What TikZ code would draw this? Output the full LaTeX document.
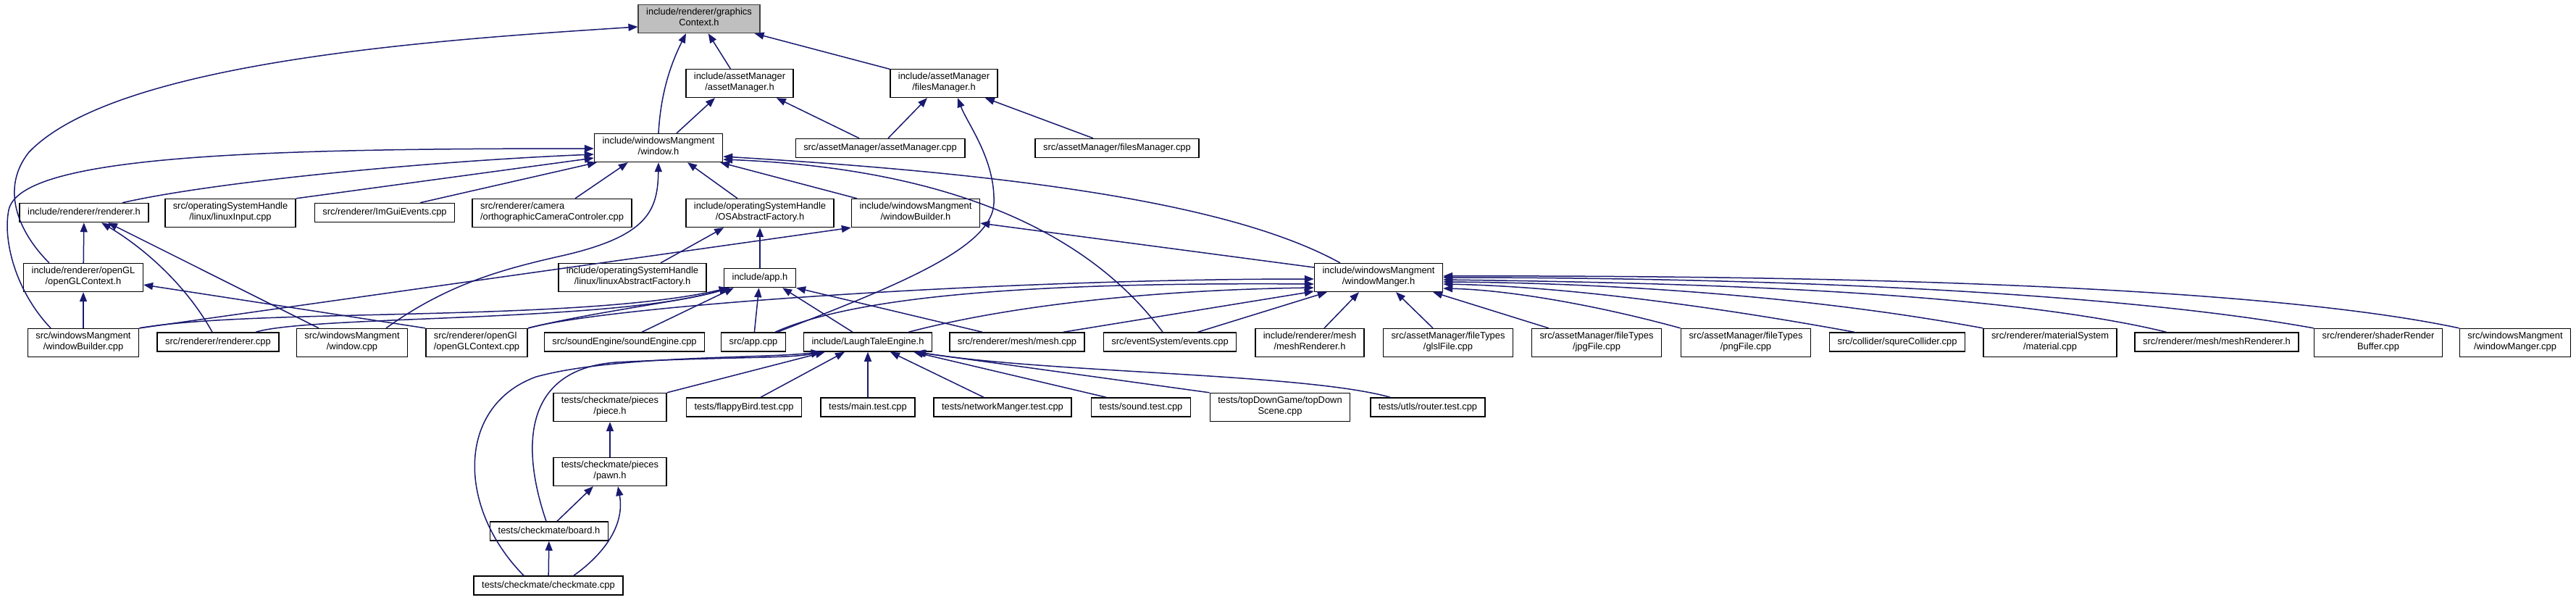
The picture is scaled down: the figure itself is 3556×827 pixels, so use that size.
\documentclass[tikz,border=0pt]{standalone}
\usepackage{fontspec}
\setmainfont{Liberation Sans}
\usetikzlibrary{arrows.meta,positioning}
\definecolor{edgeblue}{HTML}{191970}
\definecolor{mainfill}{HTML}{BFBFBF}

\begin{document}
\begin{tikzpicture}[x=1pt, y=-1pt,
  file/.style={draw=black, line width=1.5pt, fill=white, inner xsep=11pt, inner ysep=5pt,
    minimum height=26pt, align=center, font=\fontsize{12.9}{15}\selectfont,
    execute at begin node=\strut, execute at end node=\strut},
  current/.style={file, fill=mainfill, draw=black!75},
  dep/.style={draw=edgeblue, line width=1.5pt, -{Triangle[length=13pt,width=10pt]}}]
  \useasboundingbox (0,0) rectangle (3556,827);

  \node[current] (gc) at (965,26) {include/renderer/graphics\\Context.h};
  \node[file] (am) at (1021,115) {include/assetManager\\/assetManager.h};
  \node[file] (fm) at (1303,115) {include/assetManager\\/filesManager.h};
  \node[file] (win) at (909,204) {include/windowsMangment\\/window.h};
  \node[file] (amcpp) at (1215,204.5) {src/assetManager/assetManager.cpp};
  \node[file] (fmcpp) at (1542,204.5) {src/assetManager/filesManager.cpp};

  \node[file] (rendh) at (116,293.5) {include/renderer/renderer.h};
  \node[file] (lininput) at (318,294) {src/operatingSystemHandle\\/linux/linuxInput.cpp};
  \node[file] (imgui) at (531,293.5) {src/renderer/ImGuiEvents.cpp};
  \node[file, align=left] (ortho) at (762,294) {src/renderer/camera\\/orthographicCameraControler.cpp};
  \node[file] (osf) at (1049,294) {include/operatingSystemHandle\\/OSAbstractFactory.h};
  \node[file] (wbh) at (1264,294) {include/windowsMangment\\/windowBuilder.h};

  \node[file] (oglh) at (115,383) {include/renderer/openGL\\/openGLContext.h};
  \node[file] (laf) at (873,383) {include/operatingSystemHandle\\/linux/linuxAbstractFactory.h};
  \node[file] (apph) at (1049,383.5) {include/app.h};
  \node[file] (wmh) at (1903,383) {include/windowsMangment\\/windowManger.h};

  \node[file] (wbcpp) at (115,473) {src/windowsMangment\\/windowBuilder.cpp};
  \node[file] (rendcpp) at (301,472) {src/renderer/renderer.cpp};
  \node[file] (wincpp) at (486,473) {src/windowsMangment\\/window.cpp};
  \node[file, align=left] (oglcpp) at (658,473) {src/renderer/openGl\\/openGLContext.cpp};
  \node[file] (sound) at (862,472) {src/soundEngine/soundEngine.cpp};
  \node[file] (appcpp) at (1040,472) {src/app.cpp};
  \node[file] (lte) at (1198,472) {include/LaughTaleEngine.h};
  \node[file] (mesh) at (1404,472) {src/renderer/mesh/mesh.cpp};
  \node[file] (events) at (1615,472) {src/eventSystem/events.cpp};
  \node[file] (meshrh) at (1808,473) {include/renderer/mesh\\/meshRenderer.h};
  \node[file] (glsl) at (1999,473) {src/assetManager/fileTypes\\/glslFile.cpp};
  \node[file] (jpg) at (2204,473) {src/assetManager/fileTypes\\/jpgFile.cpp};
  \node[file] (png) at (2410,473) {src/assetManager/fileTypes\\/pngFile.cpp};
  \node[file] (squre) at (2619,472) {src/collider/squreCollider.cpp};
  \node[file] (material) at (2830,473) {src/renderer/materialSystem\\/material.cpp};
  \node[file] (meshrs) at (3060,472) {src/renderer/mesh/meshRenderer.h};
  \node[file] (shader) at (3283,473) {src/renderer/shaderRender\\Buffer.cpp};
  \node[file] (wmcpp) at (3472,473) {src/windowsMangment\\/windowManger.cpp};

  \node[file] (piece) at (842,562) {tests/checkmate/pieces\\/piece.h};
  \node[file] (flappy) at (1027,562) {tests/flappyBird.test.cpp};
  \node[file] (maintest) at (1198,562) {tests/main.test.cpp};
  \node[file] (network) at (1384,562) {tests/networkManger.test.cpp};
  \node[file] (soundtest) at (1575,562) {tests/sound.test.cpp};
  \node[file] (topdown) at (1767,562) {tests/topDownGame/topDown\\Scene.cpp};
  \node[file] (router) at (1971,562) {tests/utls/router.test.cpp};
  \node[file] (pawn) at (842,651) {tests/checkmate/pieces\\/pawn.h};
  \node[file] (board) at (758,733) {tests/checkmate/board.h};
  \node[file] (checkmate) at (757,808) {tests/checkmate/checkmate.cpp};

  \foreach \src/\dst in {am/gc, fm/gc, oglh/rendh, wbcpp/oglh, apph/osf, appcpp/apph,
      maintest/lte, pawn/piece, checkmate/board}
    \draw[dep] (\src) -- (\dst);

  \draw[dep] (win.north) .. controls (912,130) and (925,90) .. ([xshift=-18pt]gc.south);
  \draw[dep] ([xshift=36pt]oglh.north west) .. controls (25,320) and (0,260) .. (40,210)
    .. controls (160,85) and (600,55) .. ([yshift=-11pt]gc.west);

  \draw[dep] ([xshift=-45pt]wbcpp.north) .. controls (20,400) and (4,330) .. (12,290)
    .. controls (27,215) and (350,205) .. ([yshift=-1pt]win.west);
  \draw[dep] ([xshift=53pt]rendh.north) .. controls (300,250) and (600,222) .. ([yshift=-9pt]win.west);
  \draw[dep] (lininput.north east) -- ([yshift=-14pt]win.west);
  \draw[dep] ([xshift=49pt]imgui.north) -- ([xshift=4pt]win.south west);
  \draw[dep] ([xshift=32pt]ortho.north) -- ([xshift=47pt]win.south west);
  \draw[dep] ([xshift=47pt]wincpp.north) .. controls (620,390) and (700,370) .. (780,352)
    .. controls (895,325) and (908,290) .. (win.south);
  \draw[dep] ([xshift=-31pt]osf.north) -- ([xshift=40pt]win.south);
  \draw[dep] ([xshift=8pt]wbh.north west) -- ([xshift=-4pt]win.south east);
  \draw[dep] ([xshift=-10pt]events.north) .. controls (1480,290) and (1250,230) .. ([yshift=-16pt]win.east);
  \draw[dep] ([xshift=-53pt]wmh.north) .. controls (1700,280) and (1400,240) .. ([yshift=-12pt]win.east);

  \draw[dep] ([xshift=25pt]win.north) -- ([xshift=-34pt]am.south);
  \draw[dep] ([xshift=-29pt]amcpp.north) -- ([xshift=-24pt]am.south east);
  \draw[dep] ([xshift=11pt]amcpp.north) -- ([xshift=-23pt]fm.south);
  \draw[dep] ([xshift=-33pt]fmcpp.north) -- ([xshift=-18pt]fm.south east);
  \draw[dep] ([xshift=-12pt]appcpp.north east) .. controls (1250,390) and (1370,340) .. (1372,280)
    .. controls (1374,220) and (1335,170) .. ([xshift=19pt]fm.south);

  \draw[dep] ([xshift=-8pt]rendcpp.north) .. controls (255,390) and (195,340) .. ([xshift=24pt]rendh.south);
  \draw[dep] ([xshift=-46pt]wincpp.north) -- ([xshift=33pt]rendh.south);
  \draw[dep] (oglcpp.north west) -- ([yshift=-10pt]oglh.east);
  \draw[dep] ([xshift=39pt]laf.north) -- ([xshift=53pt]osf.south west);
  \draw[dep] (wbcpp.north east) -- (wbh.south west);
  \draw[dep] ([yshift=14pt]wmh.west) -- ([yshift=-14pt]wbh.east);

  \draw[dep] (wbcpp.north east) .. controls (350,425) and (800,445) .. ([xshift=7pt]apph.south west);
  \draw[dep] ([xshift=52pt]rendcpp.north) .. controls (430,435) and (850,445) .. ([xshift=7pt]apph.south west);
  \draw[dep] (oglcpp.north east) .. controls (820,430) and (950,415) .. ([xshift=8pt]apph.south west);
  \draw[dep] ([xshift=24pt]sound.north) -- ([xshift=14pt]apph.south west);
  \draw[dep] ([xshift=-21pt]lte.north) -- ([xshift=-19pt]apph.south east);
  \draw[dep] ([xshift=-48pt]mesh.north) -- (apph.south east);

  \draw[dep] (oglcpp.north east) .. controls (850,420) and (1400,385) .. ([yshift=-2pt]wmh.west);
  \draw[dep] ([xshift=-15pt]appcpp.north east) .. controls (1200,400) and (1500,390) .. ([yshift=-9pt]wmh.west);
  \draw[dep] ([xshift=-33pt]lte.north east) .. controls (1400,420) and (1600,400) .. ([yshift=-14pt]wmh.west);
  \draw[dep] ([xshift=-30pt]mesh.north east) -- ([yshift=-19pt]wmh.west);
  \draw[dep] ([xshift=-54pt]events.north east) -- ([xshift=18pt]wmh.south west);
  \draw[dep] ([xshift=20pt]meshrh.north) -- ([xshift=-27pt]wmh.south);
  \draw[dep] ([xshift=-21pt]glsl.north) -- ([xshift=24pt]wmh.south);
  \draw[dep] ([xshift=24pt]jpg.north west) -- ([xshift=-14pt]wmh.south east);
  \draw[dep] (png.north west) .. controls (2200,420) and (2080,400) .. ([yshift=-15pt]wmh.east);
  \draw[dep] ([xshift=35pt]squre.north west) .. controls (2350,420) and (2150,395) .. ([yshift=-9pt]wmh.east);
  \draw[dep] (material.north west) .. controls (2450,400) and (2150,390) .. ([yshift=-6pt]wmh.east);
  \draw[dep] ([xshift=44pt]meshrs.north west) .. controls (2750,400) and (2300,390) .. ([yshift=-3pt]wmh.east);
  \draw[dep] (shader.north west) .. controls (2900,400) and (2400,383) .. (wmh.east);
  \draw[dep] (wmcpp.north west) .. controls (3100,390) and (2450,380) .. ([yshift=2pt]wmh.east);

  \draw[dep] (piece.north east) -- ([xshift=30pt]lte.south west);
  \draw[dep] ([xshift=23pt]flappy.north) -- ([xshift=-32pt]lte.south);
  \draw[dep] ([xshift=-26pt]network.north) -- ([xshift=31pt]lte.south);
  \draw[dep] ([xshift=-48pt]soundtest.north) -- ([xshift=-26pt]lte.south east);
  \draw[dep] (topdown.north west) -- ([xshift=-24pt]lte.south east);
  \draw[dep] ([xshift=28pt]router.north west) .. controls (1800,515) and (1450,515) .. ([xshift=-22pt]lte.south east);
  \draw[dep] ([xshift=-4pt]board.north) .. controls (720,620) and (720,510) .. (850,500)
    .. controls (1000,492) and (1090,495) .. ([xshift=24pt]lte.south west);
  \draw[dep] ([xshift=-34pt]checkmate.north) .. controls (630,700) and (630,560) .. (740,520)
    .. controls (850,490) and (1050,495) .. ([xshift=24pt]lte.south west);
  \draw[dep] ([xshift=11pt]board.north) -- ([xshift=-23pt]pawn.south);
  \draw[dep] ([xshift=35pt]checkmate.north) .. controls (840,760) and (862,720) .. ([xshift=11pt]pawn.south);
\end{tikzpicture}
\end{document}
